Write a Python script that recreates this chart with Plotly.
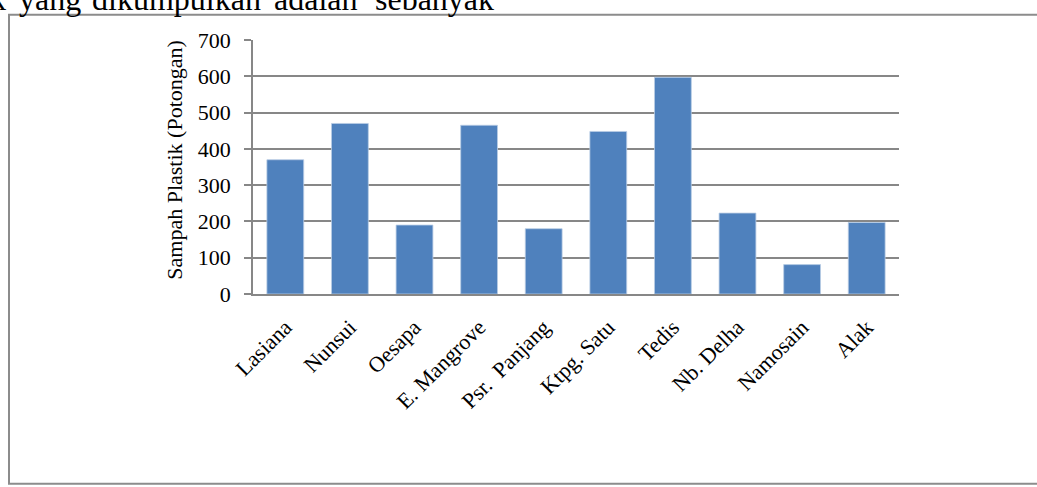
import plotly.graph_objects as go

categories = ["Lasiana", "Nunsui", "Oesapa", "E. Mangrove", "Psr.  Panjang",
              "Ktpg. Satu", "Tedis", "Nb. Delha", "Namosain", "Alak"]
values = [370, 470, 190, 465, 180, 448, 597, 223, 81, 197]
y_ticks = [0, 100, 200, 300, 400, 500, 600, 700]
y_title = "Sampah Plastik (Potongan)"
top_words = ["k", "yang", "dikumpulkan", "adalah", "sebanyak"]
top_word_x = [-12, 17, 90, 272, 373]

W, H = 1037, 487
L, R, T, B = 253, 899, 40.3, 294.3
pw, ph = R - L, B - T

def px(x):
    return (x - L) / pw

def py(y):
    return (B - y) / ph

font = "Liberation Serif, Times New Roman, serif"
grid = "#878787"

fig = go.Figure(go.Bar(
    x=categories, y=values,
    marker=dict(color="#4F81BD", line=dict(color="#B9CDE5", width=0.8)),
    width=0.57,
))

annotations = [
    dict(text=y_title, xref="paper", yref="paper", x=px(175), y=py(160),
         textangle=-90, showarrow=False, xanchor="center", yanchor="middle",
         font=dict(family=font, size=22)),
]
for w, wx in zip(top_words, top_word_x):
    annotations.append(dict(
        text=w, xref="paper", yref="paper", x=px(wx), y=py(19),
        showarrow=False, xanchor="left", yanchor="bottom",
        font=dict(family=font, size=32, color="black")))

fig.update_layout(
    width=W, height=H,
    margin=dict(l=L, r=W - R, t=T, b=H - B, pad=0),
    paper_bgcolor="white", plot_bgcolor="white",
    showlegend=False,
    font=dict(family=font, size=22, color="black"),
    xaxis=dict(
        tickangle=-45, showgrid=False, showline=True, linecolor=grid, linewidth=1.5,
        ticks="outside", ticklen=10, tickcolor="rgba(0,0,0,0)",
        tickfont=dict(family=font, size=22), fixedrange=True,
    ),
    yaxis=dict(
        range=[0, 700], tickvals=y_ticks, showgrid=True, gridcolor=grid, gridwidth=1.5,
        showline=True, linecolor=grid, linewidth=1.5, ticks="outside", ticklen=7,
        tickcolor=grid, tickwidth=1.5, zeroline=False, ticklabelstandoff=9,
        tickfont=dict(family=font, size=22), fixedrange=True,
    ),
    shapes=[dict(
        type="rect", xref="paper", yref="paper",
        x0=px(9), x1=px(1045), y0=py(484), y1=py(15),
        line=dict(color="#8C8C8C", width=2), layer="below",
    )],
    annotations=annotations,
)

fig.write_html("out.html")
